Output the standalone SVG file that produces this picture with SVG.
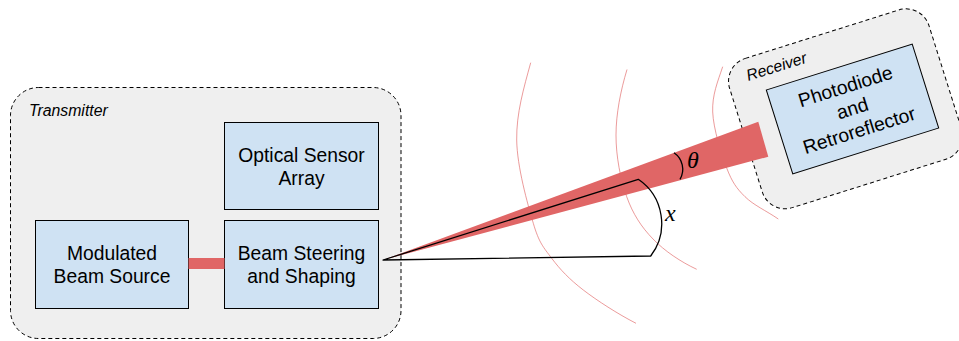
<svg xmlns="http://www.w3.org/2000/svg" width="959" height="341" viewBox="0 0 959 341">
  <style>
    .container { fill: #efefef; stroke: #000; stroke-width: 1; stroke-dasharray: 4 3; }
    .box { fill: #cfe2f3; stroke: #000; stroke-width: 1; }
    .lbl { font-family: 'Liberation Sans', Arial, sans-serif; font-size: 19.3px; fill: #000; text-anchor: middle; }
    .grp { font-family: 'Liberation Sans', Arial, sans-serif; font-size: 15.8px; font-style: italic; fill: #000; }
    .math { font-family: 'Liberation Serif', 'Times New Roman', serif; font-size: 24px; font-style: italic; fill: #000; }
    .wave { fill: none; stroke: #e06666; stroke-width: 1; stroke-opacity: 0.65; }
    .beam { fill: #e06666; stroke: none; }
    .geom { fill: none; stroke: #000; stroke-width: 1.3; stroke-linejoin: round; }
  </style>

  <g id="transmitter">
    <rect class="container" x="10.5" y="87.5" width="390.5" height="251" rx="28" ry="28"/>
    <text class="grp" x="29" y="115.5">Transmitter</text>
  </g>

  <g id="optical-sensor-array">
    <rect class="box" x="224.5" y="122.5" width="154" height="87"/>
    <text class="lbl" x="301.5" y="162">Optical Sensor</text>
    <text class="lbl" x="301.5" y="184.5">Array</text>
  </g>

  <g id="modulated-beam-source">
    <rect class="box" x="35.5" y="220.5" width="153" height="88"/>
    <text class="lbl" x="112" y="260">Modulated</text>
    <text class="lbl" x="112" y="283">Beam Source</text>
  </g>

  <g id="beam-steering">
    <rect class="box" x="224.5" y="220.5" width="154" height="88"/>
    <text class="lbl" x="301.5" y="260">Beam Steering</text>
    <text class="lbl" x="301.5" y="283">and Shaping</text>
  </g>

  <g id="waves">
    <path class="wave" d="M530.7,62.7 C523.8,88 516.3,113.2 516.7,140 C517.1,166.8 527.5,203.6 533.3,223.3 C539.1,243 543.4,247.2 551.7,258.3 C560,269.4 569.3,279.2 583.3,290 C597.4,300.8 617.5,313.8 636,323.3"/>
    <path class="wave" d="M627,69.5 C620.6,90.7 616.05,113.8 616,135 C615.95,156.2 620.5,179.4 626.7,196.7 C632.9,214 641.3,226.9 653,239 C664.7,251.1 680.8,261.9 696.7,269.3"/>
    <path class="wave" d="M722.7,66.7 C717.8,81.4 712,95.1 712.7,112 C713.4,128.9 721.3,153.9 726.7,168 C732.1,182.1 736.4,188.2 745,196.7 C753.6,205.2 766,210.6 778.3,219"/>
  </g>

  <g id="receiver" transform="translate(852.5,109) rotate(-17.5)">
    <rect class="container" x="-111" y="-80.5" width="209" height="156.5" rx="24" ry="24"/>
    <text class="grp" x="-91" y="-58">Receiver</text>
  </g>

  <g id="photodiode-retroreflector" transform="translate(852.5,109) rotate(-17.5)">
    <rect class="box" x="-76.5" y="-44" width="153" height="88"/>
    <text class="lbl" x="0" y="-17">Photodiode</text>
    <text class="lbl" x="0" y="6">and</text>
    <text class="lbl" x="0" y="29">Retroreflector</text>
  </g>

  <g id="connectors">
    <rect class="beam" x="188.5" y="258" width="36" height="11"/>
    <path class="beam" d="M383,260 L758.3,121.7 L768.3,156.7 Z"/>
    <path class="geom" d="M383,260 L638.3,179.3 A53.5,53.5 0 0 1 650.7,256 Z"/>
    <path class="geom" d="M674,152.7 A20,20 0 0 1 680,179.3"/>
  </g>

  <g id="labels">
    <text class="math" x="687" y="167.5">θ</text>
    <text class="math" x="665" y="221">x</text>
  </g>
</svg>
